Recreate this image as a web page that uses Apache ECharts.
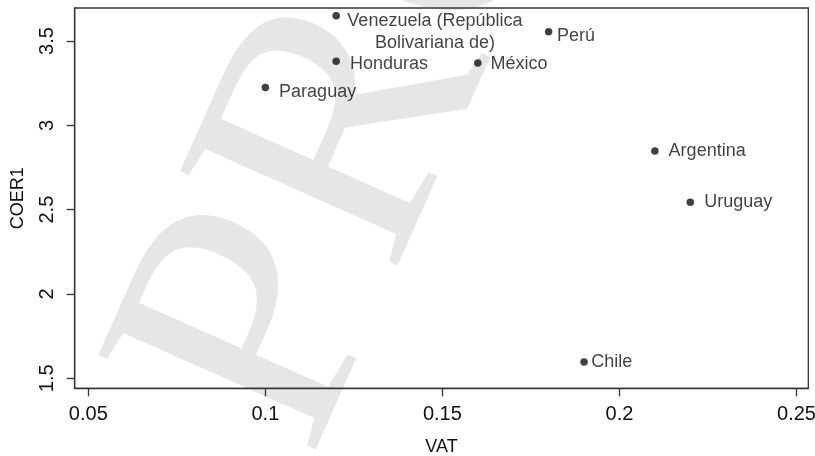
<!DOCTYPE html>
<html>
<head>
<meta charset="utf-8">
<script src="https://cdn.jsdelivr.net/npm/echarts@6/dist/echarts.min.js"></script>
<style>
html,body{margin:0;padding:0;background:#fff;}
#chart{width:815px;height:456px;}
</style>
</head>
<body>
<div id="chart"></div>
<script>
// Data
var countries = ["Venezuela (República\nBolivariana de)", "Perú", "Honduras", "México", "Paraguay", "Argentina", "Uruguay", "Chile"];
var vat = [0.12, 0.18, 0.12, 0.16, 0.10, 0.21, 0.22, 0.19];
var coer1 = [3.650, 3.555, 3.380, 3.370, 3.225, 2.848, 2.544, 1.597];
var xTicks = [0.05, 0.10, 0.15, 0.20, 0.25];
var yTicks = [1.5, 2.0, 2.5, 3.0, 3.5];

// label placement (styles only), in order of countries
var labelDist = [95, 4.5, 10, 9, 10, 10, 10.3, 3.5];
var labelDy = [16.5, 4.5, 2.5, 1, 4.4, 0, 0, 0];
var labelAlign = ['center', 'left', 'left', 'left', 'left', 'left', 'left', 'left'];

var ink = '#111';
var font = 'Liberation Sans, Arial, sans-serif';
var data = countries.map(function (c, i) {
  return {
    name: c,
    value: [vat[i], coer1[i]],
    label: {
      show: true,
      position: 'right',
      distance: labelDist[i],
      align: labelAlign[i],
      formatter: '{b}',
      color: ink,
      fontSize: 18,
      lineHeight: 21.5,
      fontFamily: font
    }
  };
});

var chart = echarts.init(document.getElementById('chart'), null, {renderer: 'canvas'});
chart.setOption({
  animation: false,
  backgroundColor: '#fff',
  graphic: [{
    type: 'text',
    z: -10,
    x: 389,
    y: 496,
    rotation: 66 * Math.PI / 180,
    silent: true,
    style: {
      text: 'PROOF',
      x: 0, y: 0,
      fill: '#e6e6e6',
      font: '362px "Liberation Serif", serif',
      textAlign: 'left',
      verticalAlign: 'bottom',
      textVerticalAlign: 'bottom'
    }
  }],
  grid: {
    left: 74.7, right: 6.7, top: 8, bottom: 67.7,
    containLabel: false,
    outerBoundsMode: 'none',
    show: true, borderColor: '#333', borderWidth: 1.3, backgroundColor: 'transparent'
  },
  xAxis: {
    type: 'value',
    min: 0.04616, max: 0.25333,
    name: 'VAT', nameLocation: 'middle', nameGap: 49.5,
    nameTextStyle: {color: ink, fontSize: 18, fontFamily: font},
    splitLine: {show: false},
    axisLine: {show: true, lineStyle: {color: '#333', width: 1.3}},
    axisTick: {show: true, length: 8, customValues: xTicks, lineStyle: {color: '#333', width: 1.3}},
    axisLabel: {customValues: xTicks, margin: 16, color: ink, fontSize: 20, fontFamily: font,
      formatter: function (v) { return String(+v.toFixed(2)); }}
  },
  yAxis: {
    type: 'value',
    min: 1.4407, max: 3.6957,
    name: 'COER1', nameLocation: 'middle', nameGap: 48, nameRotate: 90,
    nameTextStyle: {color: ink, fontSize: 18, fontFamily: font},
    splitLine: {show: false},
    axisLine: {show: true, lineStyle: {color: '#333', width: 1.3}},
    axisTick: {show: true, length: 8, customValues: yTicks, lineStyle: {color: '#333', width: 1.3}},
    axisLabel: {customValues: yTicks, rotate: 90, margin: 17, color: ink, fontSize: 20, fontFamily: font,
      formatter: function (v) { return String(+v.toFixed(1)); }}
  },
  series: [{
    type: 'scatter',
    symbol: 'circle',
    symbolSize: 7.5,
    itemStyle: {color: ink},
    data: data,
    labelLayout: function (p) {
      return {dy: labelDy[p.dataIndex], hideOverlap: false};
    }
  }]
});
</script>
</body>
</html>
